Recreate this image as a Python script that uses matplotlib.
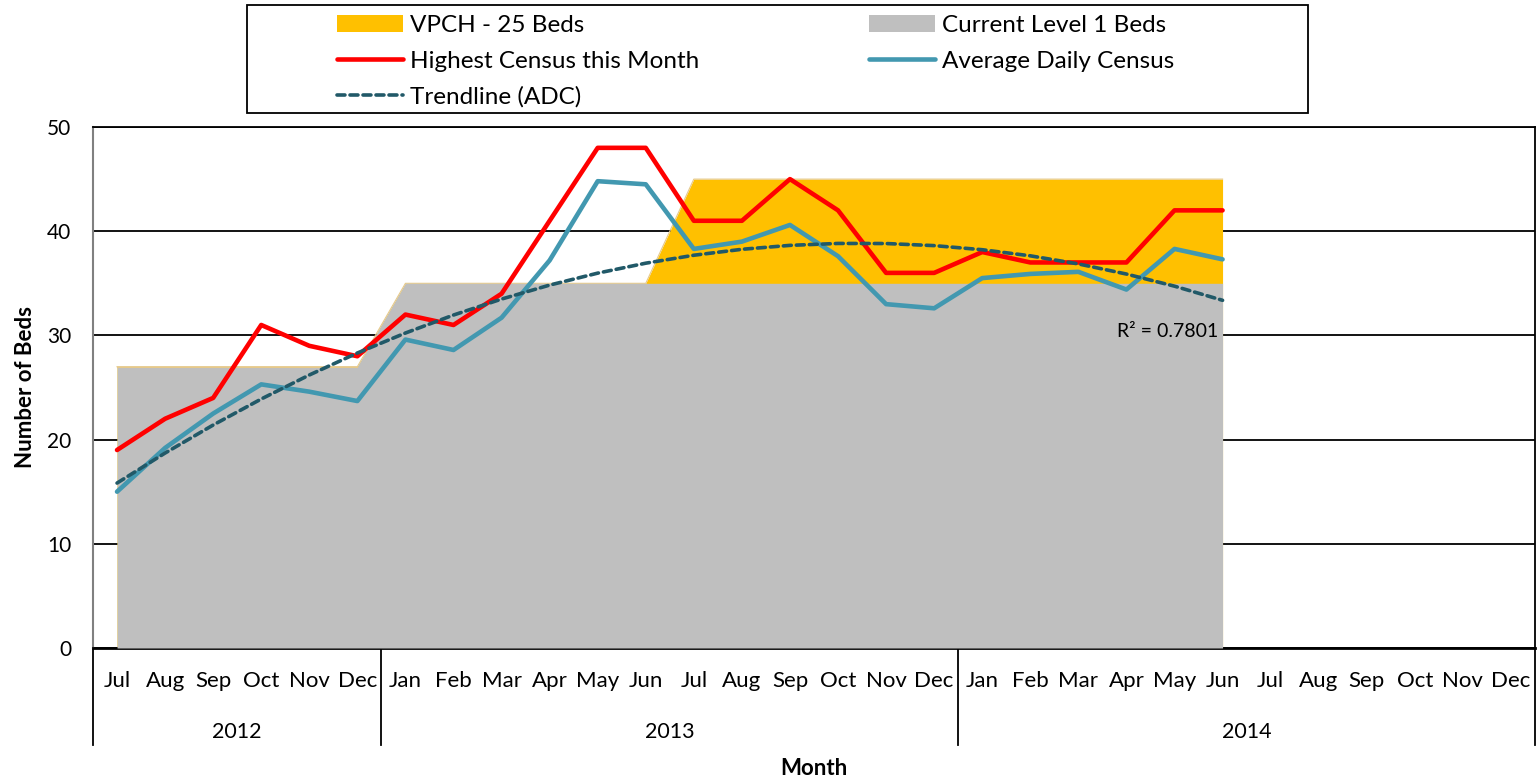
import numpy as np
import matplotlib
matplotlib.use('Agg')
import matplotlib.pyplot as plt
import matplotlib.transforms as mtransforms
from matplotlib.patches import Rectangle

plt.rcParams['font.family'] = ['Lato', 'DejaVu Sans']

# Month categories (Jul 2012 - Dec 2014)
months = ['Jul', 'Aug', 'Sep', 'Oct', 'Nov', 'Dec',
          'Jan', 'Feb', 'Mar', 'Apr', 'May', 'Jun', 'Jul', 'Aug', 'Sep', 'Oct', 'Nov', 'Dec',
          'Jan', 'Feb', 'Mar', 'Apr', 'May', 'Jun', 'Jul', 'Aug', 'Sep', 'Oct', 'Nov', 'Dec']
years = ['2012', '2013', '2014']
year_spans = [(0, 5), (6, 17), (18, 29)]

# Bed capacity areas (data through Jun 2014)
vpch_beds = [27, 27, 27, 27, 27, 27,
             35, 35, 35, 35, 35, 35, 45, 45, 45, 45, 45, 45,
             45, 45, 45, 45, 45, 45]
level1_beds = [27, 27, 27, 27, 27, 27,
               35, 35, 35, 35, 35, 35, 35, 35, 35, 35, 35, 35,
               35, 35, 35, 35, 35, 35]

# Census series
highest_census = [19, 22, 24, 31, 29, 28,
                  32, 31, 34, 41, 48, 48, 41, 41, 45, 42, 36, 36,
                  38, 37, 37, 37, 42, 42]
avg_daily_census = [15.0, 19.2, 22.5, 25.3, 24.6, 23.7,
                    29.6, 28.6, 31.7, 37.2, 44.8, 44.5, 38.3, 39.0, 40.6, 37.6, 33.0, 32.6,
                    35.5, 35.9, 36.1, 34.4, 38.3, 37.3]
r_squared_label = 'R² = 0.7801'

fig = plt.figure(figsize=(15.39, 7.81), dpi=100)
ax = fig.add_axes([93 / 1539, 1 - 648 / 781, (1535 - 93) / 1539, (648 - 127) / 781])

x = np.arange(len(vpch_beds))

# gridlines behind the areas
ax.set_axisbelow(True)
ax.yaxis.grid(True, color='black', linewidth=1.3)

ax.fill_between(x, vpch_beds, color='#FFC000', linewidth=0, label='VPCH - 25 Beds', zorder=2)
ax.plot(x, vpch_beds, color='#E6C98A', linewidth=0.8, zorder=2)
ax.fill_between(x, level1_beds, color='#BFBFBF', linewidth=0, label='Current Level 1 Beds', zorder=3)
ax.plot(x[:6], level1_beds[:6], color='#E6C98A', linewidth=0.8, zorder=3)

ax.plot(x, highest_census, color='#FF0000', linewidth=3.3, label='Highest Census this Month',
        zorder=5, solid_capstyle='round')
ax.plot(x, avg_daily_census, color='#4298B0', linewidth=3.3, label='Average Daily Census',
        zorder=5, solid_capstyle='round')

# 2nd order polynomial trendline of ADC
coef = np.polyfit(x, avg_daily_census, 2)
trend = np.polyval(coef, x)
ax.plot(x, trend, color='#215968', linewidth=2.6, linestyle=(0, (2.2, 1.4)),
        label='Trendline (ADC)', zorder=6, dash_capstyle='round')
ax.text(22.9, 30.4, r_squared_label, ha='right', va='center', fontsize=14, zorder=7)

ax.set_xlim(-0.5, 29.5)
ax.set_ylim(0, 50)
ax.set_yticks([0, 10, 20, 30, 40, 50])
ax.tick_params(axis='y', length=0, labelsize=15, pad=15.5)
ax.set_xticks(np.arange(len(months)))
ax.set_xticklabels(months, fontsize=16)
ax.tick_params(axis='x', length=0, pad=16.5)

for side in ['top', 'right', 'bottom']:
    ax.spines[side].set_color('black')
    ax.spines[side].set_linewidth(1.3)
ax.spines['bottom'].set_linewidth(2)
ax.spines['left'].set_color('#808080')
ax.spines['left'].set_linewidth(1.5)

# multi-level category axis
trans = mtransforms.blended_transform_factory(ax.transData, ax.transAxes)
for xb in [-0.5, 5.5, 17.5, 29.5]:
    ax.plot([xb, xb], [0, -0.187], color='black', linewidth=1.3, transform=trans, clip_on=False)
for yr, (a, b) in zip(years, year_spans):
    ax.text((a + b) / 2, -0.161, yr, transform=trans, ha='center', va='center', fontsize=15.5)

ax.set_xlabel('Month', fontsize=16, fontweight='bold', labelpad=48.5)
ax.set_ylabel('Number of Beds', fontsize=16, fontweight='bold', labelpad=8)

handles, labels = ax.get_legend_handles_labels()
order = ['VPCH - 25 Beds', 'Highest Census this Month', 'Trendline (ADC)',
         'Current Level 1 Beds', 'Average Daily Census']
hmap = dict(zip(labels, handles))
leg = fig.legend([hmap[k] for k in order], order, ncol=2, fontsize=17.5,
                 loc='upper left', bbox_to_anchor=(337 / 1539, 1 - 15 / 781),
                 frameon=False, columnspacing=7.0, handlelength=2.7, handletextpad=0.3,
                 borderpad=0, borderaxespad=0, labelspacing=0.6)
# fixed-size legend frame as in the original
fig.patches.append(Rectangle((247 / 1539, 1 - 113 / 781), (1308 - 247) / 1539, 108 / 781,
                             transform=fig.transFigure, fill=False, edgecolor='black',
                             linewidth=1.3))

fig.savefig('out.png', dpi=100)
